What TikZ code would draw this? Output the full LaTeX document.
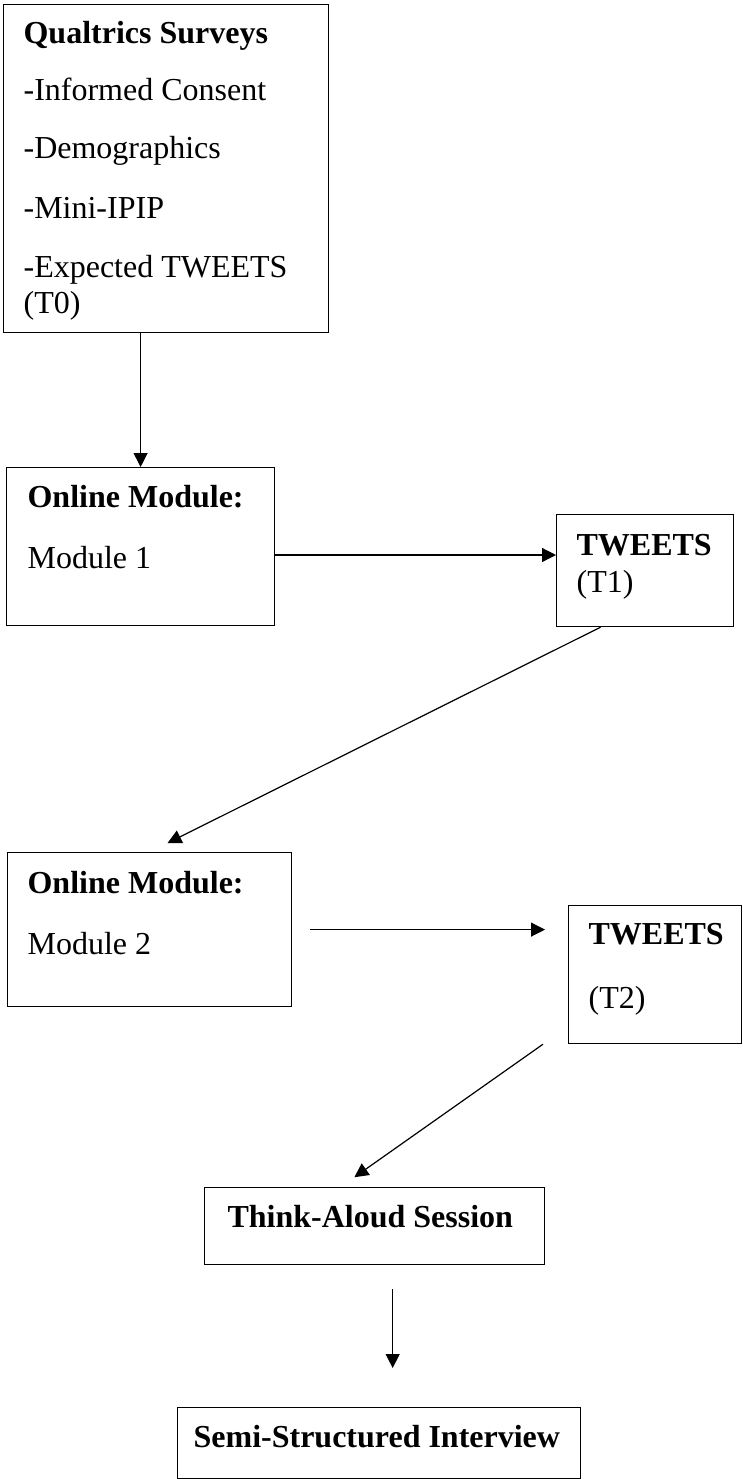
\documentclass[tikz,border=0pt]{standalone}
\usepackage{fontspec}
\setmainfont{Liberation Serif}
\usetikzlibrary{arrows.meta,calc}

\begin{document}
\begin{tikzpicture}[
  x = 0.5pt,
  y = -0.5pt,
  box/.style = {
    draw,
    anchor = north west,
    inner sep = 0pt,
  },
  txt/.style = {
    anchor = base west,
    inner sep = 0pt,
    font = \fontsize{16pt}{18pt}\selectfont,
  },
  hd/.style = {
    txt,
    font = \fontsize{16pt}{18pt}\selectfont\bfseries,
  },
  arr/.style = {
    -{Triangle[length=7pt, width=7pt]}
  },
  every path/.style = {
    line width = 0.6pt
  }
]
  \useasboundingbox (0, 0) rectangle (743, 1479);

  \node[box, minimum width = 162.5pt, minimum height = 164pt] (qual) at (3, 4) {};
  \node[hd] (qualtitle) at (23, 43) {Qualtrics Surveys};
  \node[txt] (consent) at (23, 100) {-Informed Consent};
  \node[txt] (demog) at (23, 158) {-Demographics};
  \node[txt] (ipip) at (23, 218) {-Mini-IPIP};
  \node[txt] (expected) at (23, 277) {-Expected TWEETS};
  \node[txt] (tzero) at (23, 313) {(T0)};

  \node[box, minimum width = 134pt, minimum height = 79pt] (mod1) at (6, 467) {};
  \node[hd] (mod1title) at (27, 507) {Online Module:};
  \node[txt] (mod1text) at (27, 568) {Module 1};

  \node[box, minimum width = 88.5pt, minimum height = 56pt] (tw1) at (556, 514) {};
  \node[hd] (tw1title) at (576, 555) {TWEETS};
  \node[txt] (tw1text) at (576, 592) {(T1)};

  \node[box, minimum width = 142pt, minimum height = 77pt] (mod2) at (7, 852) {};
  \node[hd] (mod2title) at (27, 893) {Online Module:};
  \node[txt] (mod2text) at (27, 954) {Module 2};

  \node[box, minimum width = 86.5pt, minimum height = 69pt] (tw2) at (568, 905) {};
  \node[hd] (tw2title) at (588, 944) {TWEETS};
  \node[txt] (tw2text) at (588, 1008) {(T2)};

  \node[box, minimum width = 170pt, minimum height = 38.5pt] (think) at (204, 1187) {};
  \node[hd] (thinktext) at (227, 1227) {Think-Aloud Session};

  \node[box, minimum width = 201.5pt, minimum height = 35.5pt] (interview) at (177, 1407) {};
  \node[hd] (interviewtext) at (193, 1447) {Semi-Structured Interview};

  \coordinate (thinkout) at ($(think.south west)!0.553!(think.south east)$);

  \draw[arr] (mod1.north |- qual.south) -- (mod1.north);
  \draw[arr] (mod1.east |- tw1title.base) -- (tw1.west |- tw1title.base);
  \draw[arr, shorten >= 10pt] ($(tw1.south west)!0.25!(tw1.south east)$) -- (mod2.north);
  \draw[arr, shorten <= 9pt, shorten >= 11.5pt] (mod2.east) -- (mod2.east -| tw2.west);
  \draw[arr, shorten >= 8.5pt] ([xshift = -12.5pt]tw2.south west) -- ($(think.north west)!0.4!(think.north east)$);
  \draw[arr, shorten <= 12pt, shorten >= 19.5pt] (thinkout) -- (thinkout |- interview.north);
\end{tikzpicture}
\end{document}
